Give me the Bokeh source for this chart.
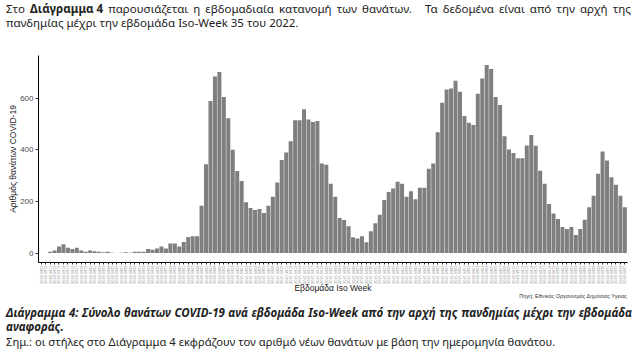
import numpy as np
from bokeh.plotting import figure
from bokeh.models import Range1d, FixedTicker, Div
from bokeh.layouts import column
from bokeh.embed import file_html
from bokeh.resources import INLINE

# ISO weeks shown on the x axis (2020-W09 ... 2022-W35)
weeks_2020 = list(range(9, 54))
weeks_2021 = list(range(1, 53))
weeks_2022 = list(range(1, 36))
week_labels = ([f"2020-W{w:02d}" for w in weeks_2020]
               + [f"2021-W{w:02d}" for w in weeks_2021]
               + [f"2022-W{w:02d}" for w in weeks_2022])

# weekly COVID-19 deaths
deaths_2020 = [0, 0, 5, 10, 26, 34, 21, 16, 21, 10, 5, 10, 7, 5, 3, 5, 1, 0, 1, 3,
               1, 5, 5, 5, 16, 13, 18, 26, 18, 37, 37, 26, 43, 62, 65, 65, 183, 344,
               589, 684, 702, 605, 522, 400, 318]
deaths_2021 = [279, 197, 175, 167, 171, 155, 183, 218, 273, 361, 390, 433, 515, 515,
               557, 518, 508, 512, 347, 342, 269, 218, 136, 128, 104, 61, 57, 65, 42,
               85, 116, 149, 206, 237, 250, 276, 269, 218, 240, 209, 253, 253, 327,
               347, 468, 582, 634, 638, 668, 625, 531, 505]
deaths_2022 = [496, 617, 676, 729, 713, 605, 574, 453, 401, 388, 367, 367, 417, 457,
               416, 319, 269, 190, 153, 132, 101, 93, 101, 70, 93, 129, 178, 222,
               307, 394, 359, 294, 265, 222, 178]
deaths = deaths_2020 + deaths_2021 + deaths_2022

y_ticks = [0, 200, 400, 600]

x_title = "Εβδομάδα Iso Week"
y_title = "Αριθμός θανάτων COVID-19"
source_note = "Πηγή: Εθνικός Οργανισμός Δημόσιας Υγείας"

intro_line1 = "Στο|**Διάγραμμα 4**|παρουσιάζεται|η|εβδομαδιαία|κατανομή|των|θανάτων.||Τα|δεδομένα|είναι|από|την|αρχή|της"
intro_line2 = "πανδημίας μέχρι την εβδομάδα Iso-Week 35 του 2022."
caption_line1 = "Διάγραμμα 4: Σύνολο θανάτων COVID-19 ανά εβδομάδα Iso-Week από την αρχή της πανδημίας μέχρι την εβδομάδα"
caption_line2 = "αναφοράς."
note_line = "Σημ.: οι στήλες στο Διάγραμμα 4 εκφράζουν τον αριθμό νέων θανάτων με βάση την ημερομηνία θανάτου."

n = len(deaths)
xs = list(range(n))
ymax = max(deaths)

p = figure(width=638, height=257, output_backend="svg", toolbar_location=None,
           x_range=Range1d(-0.6, n - 1 + 0.6),
           y_range=Range1d(-0.05 * ymax, ymax * 1.05),
           min_border_left=38, min_border_right=11, min_border_top=17,
           min_border_bottom=32)
p.margin = 0
p.outline_line_color = None
p.xgrid.visible = False
p.ygrid.visible = False
p.background_fill_color = "white"
p.border_fill_color = None

p.vbar(x=xs, top=deaths, bottom=0, width=0.9, fill_color="#7f7f7f", line_color=None)

ax = p.xaxis[0]
ax.ticker = FixedTicker(ticks=xs)
ax.major_label_overrides = {i: lab for i, lab in zip(xs, week_labels)}
ax.major_label_orientation = np.pi / 2
ax.major_label_text_font = "Liberation Sans"
ax.major_label_text_font_size = "4px"
ax.major_label_text_color = "#9a9a9a"
ax.major_label_standoff = 1
ax.major_tick_out = 2
ax.major_tick_in = 0
ax.major_tick_line_color = "#333333"
ax.minor_tick_line_color = None
ax.axis_line_color = "black"
ax.axis_line_width = 1
ax.axis_label = x_title
ax.axis_label_text_font = "Liberation Sans"
ax.axis_label_text_font_size = "8.5px"
ax.axis_label_text_font_style = "normal"
ax.axis_label_text_color = "#1a1a1a"
ax.axis_label_standoff = -4

ay = p.yaxis[0]
ay.ticker = FixedTicker(ticks=y_ticks)
ay.major_label_text_font = "Liberation Sans"
ay.major_label_text_font_size = "8px"
ay.major_label_text_color = "#4d4d4d"
ay.major_label_standoff = 2
ay.major_tick_out = 3
ay.major_tick_in = 0
ay.major_tick_line_color = "#333333"
ay.minor_tick_line_color = None
ay.axis_line_color = "black"
ay.axis_line_width = 1
ay.axis_label = y_title
ay.axis_label_text_font = "Liberation Sans"
ay.axis_label_text_font_size = "8.5px"
ay.axis_label_text_font_style = "normal"
ay.axis_label_text_color = "#1a1a1a"
ay.axis_label_standoff = -1

font = "'Noto Sans', sans-serif"


def spread(words_spec):
    spans = []
    for w in words_spec.split("|"):
        if w == "":
            continue
        if w.startswith("**"):
            spans.append(f"<span style='font-weight:bold'>{w.strip('*')}</span>")
        elif w.endswith("."):
            spans.append(f"<span style='margin-right:8px'>{w}</span>")
        else:
            spans.append(f"<span>{w}</span>")
    return "".join(spans)


top_html = f"""
<div style="position:relative; width:638px; height:38px; font-family:{font}; font-size:11.5px; color:#222;">
<div style="position:absolute; left:6px; top:2px; width:625px; line-height:14px; display:flex; justify-content:space-between; white-space:nowrap;">{spread(intro_line1)}</div>
<div style="position:absolute; left:6px; top:16px; line-height:14px; white-space:nowrap;">{intro_line2}</div>
</div>"""
top_div = Div(text=top_html, width=638, height=38, margin=0)

cap_words = "".join(f"<span>{w}</span>" for w in caption_line1.split(" "))
bottom_html = f"""
<div style="position:relative; width:638px; height:63px; font-family:{font}; color:#222;">
<div style="position:absolute; right:11px; top:-3px; line-height:8px; font-family:'Liberation Sans', sans-serif; font-size:5.5px; color:#333; white-space:nowrap;">{source_note}</div>
<div style="position:absolute; left:6px; top:11px; width:626px; line-height:14px; font-size:11.5px; font-weight:bold; font-style:italic; display:flex; justify-content:space-between; white-space:nowrap;">{cap_words}</div>
<div style="position:absolute; left:6px; top:25px; line-height:14px; font-size:11.5px; font-weight:bold; font-style:italic; white-space:nowrap;">{caption_line2}</div>
<div style="position:absolute; left:6px; top:40px; line-height:14px; font-size:11.2px; white-space:nowrap;">{note_line}</div>
</div>"""
bottom_div = Div(text=bottom_html, width=638, height=63, margin=0)

layout = column(top_div, p, bottom_div, spacing=0, margin=0)

open("out.html", "w").write(file_html(layout, INLINE))
